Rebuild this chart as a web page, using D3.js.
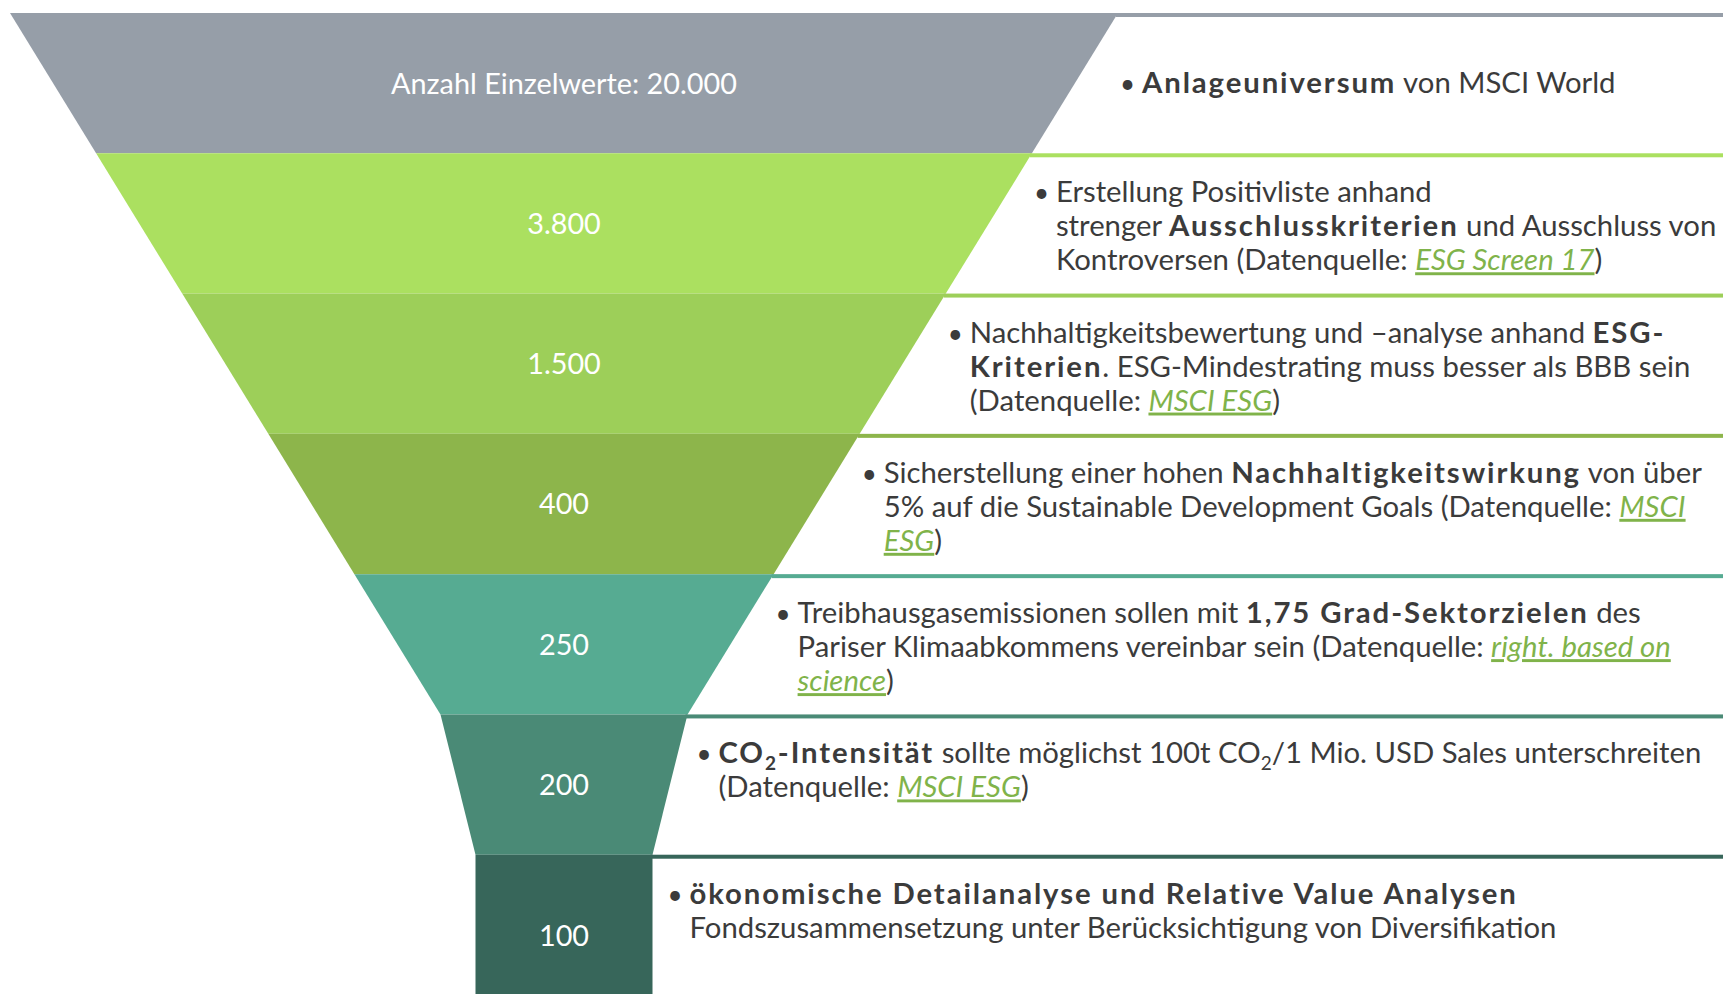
<!DOCTYPE html>
<html>
<head>
<meta charset="utf-8">
<script src="https://cdn.jsdelivr.net/npm/d3@7"></script>
<style>
  html, body { margin: 0; padding: 0; background: #fff; overflow: hidden; }
  svg { display: block; }
</style>
</head>
<body>
<script>
// funnel stages, top to bottom
var stageLabels = ["Anzahl Einzelwerte: 20.000", "3.800", "1.500", "400", "250", "200", "100"];
var stageColors = ["#969ea8", "#abe060", "#9dcf59", "#8db54b", "#56ab92", "#4a8a76", "#37665a"];

// description text, one entry per stage: lines -> runs [text, style]
// style: "" normal, "b" bold, "l" link, "s" subscript, "bs" bold subscript
var stageNotes = [
  [[["Anlageuniversum", "b"], [" von MSCI World", ""]]],
  [[["Erstellung Positivliste anhand", ""]],
   [["strenger ", ""], ["Ausschlusskriterien", "b"], [" und Ausschluss von", ""]],
   [["Kontroversen (Datenquelle: ", ""], ["ESG Screen 17", "l"], [")", ""]]],
  [[["Nachhaltigkeitsbewertung und \u2013analyse anhand ", ""], ["ESG-", "b"]],
   [["Kriterien", "b"], [". ESG-Mindestrating muss besser als BBB sein", ""]],
   [["(Datenquelle: ", ""], ["MSCI ESG", "l"], [")", ""]]],
  [[["Sicherstellung einer hohen ", ""], ["Nachhaltigkeitswirkung", "b"], [" von \u00fcber", ""]],
   [["5% auf die Sustainable Development Goals (Datenquelle: ", ""], ["MSCI", "l"]],
   [["ESG", "l"], [")", ""]]],
  [[["Treibhausgasemissionen sollen mit ", ""], ["1,75 Grad-Sektorzielen", "b"], [" des", ""]],
   [["Pariser Klimaabkommens vereinbar sein (Datenquelle: ", ""], ["right. based on", "l"]],
   [["science", "l"], [")", ""]]],
  [[["CO", "b"], ["2", "bs"], ["-Intensit\u00e4t", "b"], [" sollte m\u00f6glichst 100t CO", ""], ["2", "s"], ["/1 Mio. USD Sales unterschreiten", ""]],
   [["(Datenquelle: ", ""], ["MSCI ESG", "l"], [")", ""]]],
  [[["\u00f6konomische Detailanalyse und Relative Value Analysen", "b"]],
   [["Fondszusammensetzung unter Ber\u00fccksichtigung von Diversifikation", ""]]]
];

var svgWidth = 1723;
var svgHeight = 994;
var centerX = 564;
var textPad = [24, 24, 24, 24, 24, 31, 37];
var fontFamily = "Lato, 'Open Sans', sans-serif";
var textColor = "#3b3b3b";
var linkColor = "#80b34a";

var svg = d3.select("body").append("svg")
    .attr("width", svgWidth)
    .attr("height", svgHeight);

// y position of stage boundaries
var yScale = d3.scaleLinear().domain([0, 7]).range([13, 995]);
// half width of the funnel at each boundary
var halfWidth = d3.scaleLinear().domain([0, 5, 6, 7]).range([554, 123.5, 88.5, 88.5]);

var n = stageLabels.length;
function bandBottom(i) { return i === n - 1 ? yScale(7.16) : yScale(i + 1); }

// funnel segments
var funnel = svg.append("g");
funnel.selectAll("path")
    .data(stageLabels)
    .enter()
    .append("path")
    .attr("d", function(d, i) {
        var y0 = yScale(i), y1 = bandBottom(i);
        var w0 = halfWidth(i), w1 = halfWidth(Math.min(i + 1, 7));
        return "M" + (centerX - w0) + "," + y0 +
               "L" + (centerX + w0) + "," + y0 +
               "L" + (centerX + w1) + "," + y1 +
               "L" + (centerX - w1) + "," + y1 + "Z";
    })
    .attr("fill", function(d, i) { return stageColors[i]; });

// rule lines running to the right
svg.append("g").selectAll("rect")
    .data(stageLabels)
    .enter()
    .append("rect")
    .attr("x", function(d, i) { return centerX + halfWidth(i) - 2; })
    .attr("y", function(d, i) { return yScale(i); })
    .attr("width", function(d, i) { return svgWidth - centerX - halfWidth(i) + 2; })
    .attr("height", 4)
    .attr("fill", function(d, i) { return stageColors[i]; });

// labels in the funnel
svg.append("g").selectAll("text")
    .data(stageLabels)
    .enter()
    .append("text")
    .attr("x", centerX)
    .attr("y", function(d, i) { return (yScale(i) + bandBottom(i)) / 2; })
    .attr("dy", "0.36em")
    .attr("text-anchor", "middle")
    .attr("fill", "#fff")
    .style("font-family", fontFamily)
    .style("font-size", "28.8px")
    .text(function(d) { return d; });

// descriptions
var notes = svg.append("g")
    .style("font-family", fontFamily)
    .style("font-size", "29.3px")
    .attr("fill", textColor);

stageNotes.forEach(function(lines, i) {
    var x = centerX + halfWidth(i) + textPad[i];
    var firstY = lines.length === 1
        ? (yScale(i) + bandBottom(i)) / 2 + 10
        : yScale(i) + 49;

    notes.append("text")
        .attr("x", x - 22)
        .attr("y", firstY)
        .style("font-size", "26px")
        .text("\u2022");

    lines.forEach(function(runs, j) {
        var t = notes.append("text")
            .attr("x", x)
            .attr("y", firstY + j * 34);
        var shifted = false;
        runs.forEach(function(r) {
            var span = t.append("tspan").text(r[0]);
            var st = r[1];
            if (st.indexOf("b") >= 0) {
                span.attr("font-weight", "bold").style("letter-spacing", "1.9px");
            }
            if (st === "l") {
                span.attr("fill", linkColor)
                    .attr("font-style", "italic")
                    .attr("text-decoration", "underline");
            }
            if (st.indexOf("s") >= 0) {
                span.attr("dy", 7).style("font-size", "19px");
                shifted = true;
            } else if (shifted) {
                span.attr("dy", -7);
                shifted = false;
            }
        });
    });
});
</script>
</body>
</html>
